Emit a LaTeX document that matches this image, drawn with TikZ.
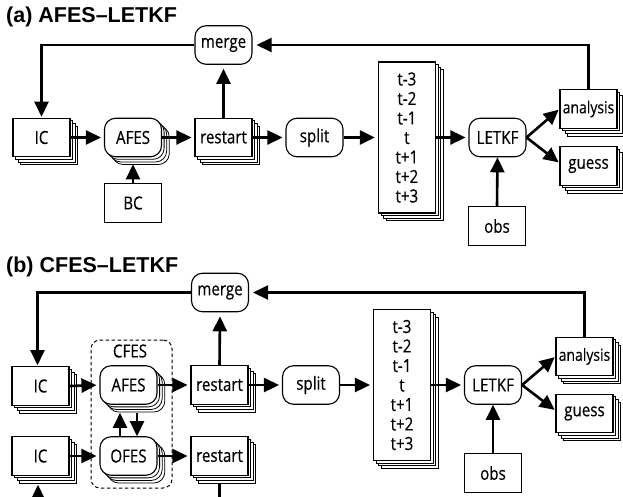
\documentclass[tikz,border=0pt]{standalone}
\usepackage{fontspec}
\setmainfont{Open Sans}[FakeStretch=0.84,FakeBold=0.4]
\newfontfamily\titlefont{Liberation Sans}
\usetikzlibrary{arrows.meta,shadows}
\begin{document}
\begin{tikzpicture}[x=1pt,y=-1pt,
  font=\fontsize{18}{19.5}\selectfont,
  bx/.style={draw, line width=1.1pt, fill=white, minimum width=57pt, minimum height=38.5pt, inner sep=0pt},
  rbx/.style={bx, rounded corners=11pt},
  stk/.style={copy shadow={shadow xshift=7.8pt, shadow yshift=-7.8pt, line width=0.8pt, fill=white, draw=black},
              copy shadow={shadow xshift=5.2pt, shadow yshift=-5.2pt, line width=0.8pt, fill=white, draw=black},
              copy shadow={shadow xshift=2.6pt, shadow yshift=-2.6pt, line width=0.8pt, fill=white, draw=black}},
  tall/.style={minimum height=151pt, align=center},
  small/.style={font=\fontsize{16.6}{19.5}\selectfont},
  con/.style={line width=2.6pt},
  arr/.style={con, shorten >=3pt, -{Triangle[length=15pt,width=14pt]}},
  ttl/.style={font=\titlefont\bfseries\fontsize{21.5}{24}\selectfont, anchor=west, inner sep=0pt},
  dbox/.style={draw, dash pattern=on 3.5pt off 2.5pt, rounded corners=9pt, line width=1pt, minimum width=81pt, minimum height=148pt, inner sep=0pt}
]
\path[use as bounding box] (0,0) rectangle (623,497);
\clip (0,0) rectangle (623,497);

% ---------------- panel (a)
\node[ttl] (titleA) at (6,17) {(a) AFES–LETKF};
\node[rbx] (mergeA) at (223.5,45) {merge};
\node[bx,stk] (ICA) at (41.5,137.5) {IC};
\node[rbx,stk] (AFESA) at (133,137.5) {AFES};
\node[bx] (BCA) at (133,203) {BC};
\node[bx,stk] (restartA) at (223.5,137.5) {restart};
\node[rbx] (splitA) at (314.5,137.5) {split};
\node[bx,stk,tall] (timeA) at (406.9,137.5) {t-3\\t-2\\t-1\\t\\t+1\\t+2\\t+3};
\node[rbx] (LETKFA) at (497.5,137.5) {LETKF};
\node[bx] (obsA) at (497,226) {obs};
\node[bx,stk,small] (analysisA) at (588.5,109) {analysis};
\node[bx,stk] (guessA) at (588.5,166) {guess};

\draw[arr,shorten >=4pt] (analysisA.north) |- (mergeA.east);
\draw[arr,shorten >=1pt] (mergeA.west) -| (ICA.north);
\draw[arr] (ICA.east) -- (AFESA.west);
\draw[arr] (AFESA.east) -- (restartA.west);
\draw[arr,shorten >=4pt] (restartA.north) -- (mergeA.south);
\draw[arr] (restartA.east) -- (splitA.west);
\draw[arr] (splitA.east) -- (timeA.west);
\draw[arr] (timeA.east) -- (LETKFA.west);
\draw[arr,shorten >=1pt] (LETKFA.east) -- (analysisA.west);
\draw[arr,shorten >=1pt] (LETKFA.east) -- ([yshift=3pt]guessA.west);
\draw[arr,shorten >=0pt] (obsA.north) -- (LETKFA.south);
\draw[arr,shorten >=0pt] (BCA.north) -- ([yshift=-7pt]AFESA.south);

% ---------------- panel (b)
\node[ttl] (titleB) at (6,267) {(b) CFES–LETKF};
\node[dbox] (cfes) at (131.5,414) {};
\node (cfeslabel) at (130,351) {CFES};
\node[rbx] (mergeB) at (220,292.5) {merge};
\node[bx,stk] (IC1B) at (40.5,386) {IC};
\node[bx,stk] (IC2B) at (40.5,456) {IC};
\node[rbx,stk] (AFESB) at (128.5,385) {AFES};
\node[rbx,stk] (OFESB) at (128.5,456) {OFES};
\node[bx,stk] (restart1B) at (219.5,385) {restart};
\node[bx,stk] (restart2B) at (219.5,456) {restart};
\node[rbx] (splitB) at (311,385) {split};
\node[bx,stk,tall] (timeB) at (402,385) {t-3\\t-2\\t-1\\t\\t+1\\t+2\\t+3};
\node[rbx] (LETKFB) at (493,385) {LETKF};
\node[bx] (obsB) at (493,473) {obs};
\node[bx,stk,small] (analysisB) at (584.5,356.5) {analysis};
\node[bx,stk] (guessB) at (584.5,413.5) {guess};
\coordinate (icin) at (38,520);
\coordinate (rout) at (219.5,520);

\draw[arr,shorten >=4pt] (analysisB.north) |- (mergeB.east);
\draw[arr,shorten >=1pt] (mergeB.west) -| ([xshift=-3pt]IC1B.north);
\draw[arr] (IC1B.east) -- (AFESB.west);
\draw[arr] (IC2B.east) -- (OFESB.west);
\draw[arr] (AFESB.east) -- (restart1B.west);
\draw[arr] (OFESB.east) -- (restart2B.west);
\draw[arr,shorten >=4pt] (restart1B.north) -- (mergeB.south);
\draw[arr] (restart1B.east) -- (splitB.west);
\draw[arr] (splitB.east) -- (timeB.west);
\draw[arr] (timeB.east) -- (LETKFB.west);
\draw[arr,shorten >=1pt] (LETKFB.east) -- (analysisB.west);
\draw[arr,shorten >=1pt] (LETKFB.east) -- ([yshift=3pt]guessB.west);
\draw[arr,shorten >=0pt] (obsB.north) -- (LETKFB.south);
\draw[arr,shorten >=0pt] ([xshift=-8.5pt]OFESB.north) -- ([xshift=-8.5pt,yshift=-8pt]AFESB.south);
\draw[arr,shorten >=0pt] ([xshift=8.5pt,yshift=-8pt]AFESB.south) -- ([xshift=8.5pt]OFESB.north);
\draw[arr,shorten >=1pt] (icin) -- ([xshift=-2.5pt,yshift=-8pt]IC2B.south);
\draw[con] ([yshift=-8pt]restart2B.south) -- (rout);
\end{tikzpicture}
\end{document}
